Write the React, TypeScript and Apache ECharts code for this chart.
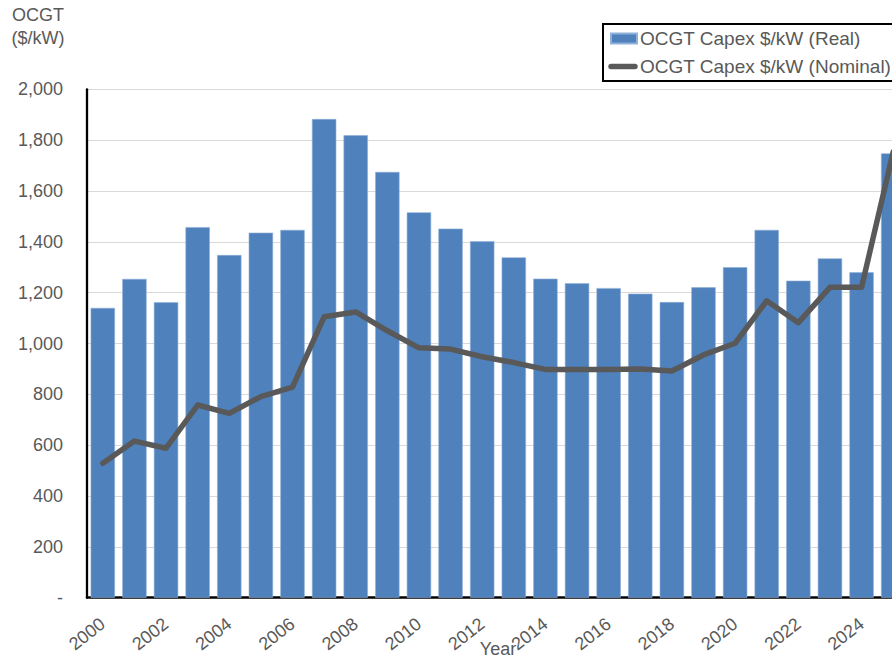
import React, { useEffect, useRef } from "react";
import * as echarts from "echarts";

const years = [
  "2000", "2001", "2002", "2003", "2004", "2005", "2006", "2007", "2008", "2009",
  "2010", "2011", "2012", "2013", "2014", "2015", "2016", "2017", "2018", "2019",
  "2020", "2021", "2022", "2023", "2024", "2025",
];
const realCapex = [
  1140, 1254, 1162, 1458, 1348, 1436, 1447, 1883, 1819, 1675,
  1516, 1452, 1402, 1339, 1255, 1237, 1218, 1196, 1163, 1221,
  1300, 1447, 1247, 1335, 1280, 1748,
];
const nominalCapex = [
  529, 616, 588, 758, 725, 791, 828, 1105, 1124, 1050,
  983, 978, 948, 925, 898, 898, 898, 900, 892, 955,
  1001, 1168, 1082, 1221, 1221, 1754,
];
const seriesNames = ["OCGT Capex $/kW (Real)", "OCGT Capex $/kW (Nominal)"];
const yTitleLines = ["OCGT", "($/kW)"];
const xAxisTitle = "Year";

const FONT = "'Liberation Sans', Arial, sans-serif";
const TEXT = "#595959";
const LINE_ICON = "path://M0,0 L0,0 M0,10 L0,10 M3,2.3 L27,2.3 A2.7,2.7 0 0 1 27,7.7 L3,7.7 A2.7,2.7 0 0 1 3,2.3 Z M30,0 L30,0 M30,10 L30,10";

export default function App() {
  const ref = useRef<HTMLDivElement>(null);
  useEffect(() => {
    if (!ref.current) return;
    const chart = echarts.init(ref.current, undefined, { renderer: "svg" });
    chart.setOption({
      animation: false,
      backgroundColor: "#ffffff",
      textStyle: { fontFamily: FONT, color: TEXT },
      graphic: [
        {
          type: "text",
          x: 38,
          y: 15,
          style: {
            text: yTitleLines[0],
            fill: TEXT,
            font: `18px ${FONT}`,
            textAlign: "center",
            textVerticalAlign: "middle",
          },
        },
        {
          type: "text",
          x: 38,
          y: 38,
          style: {
            text: yTitleLines[1],
            fill: TEXT,
            font: `18px ${FONT}`,
            textAlign: "center",
            textVerticalAlign: "middle",
          },
        },
      ],
      legend: {
        orient: "vertical",
        left: 603,
        top: 24,
        padding: [5, 30, 5, 4],
        itemGap: 9,
        itemWidth: 30,
        itemHeight: 10,
        borderColor: "#000",
        borderWidth: 2,
        backgroundColor: "#fff",
        textStyle: { fontFamily: FONT, fontSize: 19, color: TEXT, padding: [0, 0, 0, -3] },
        data: [
          { name: seriesNames[0], icon: "path://M3,0 L29,0 L29,10 L3,10 Z M0,0 L0,0 M30,10 L30,10" },
          { name: seriesNames[1], icon: LINE_ICON, itemStyle: { color: "#595959" } },
        ],
      },
      grid: { left: 87, top: 89.3, width: 822, height: 508.4, containLabel: false, outerBoundsMode: "none" },
      xAxis: {
        type: "category",
        data: years,
        name: xAxisTitle,
        nameLocation: "middle",
        nameGap: 42,
        nameMoveOverlap: false,
        nameTextStyle: { fontFamily: FONT, fontSize: 18, color: TEXT },
        axisLine: { show: true, lineStyle: { color: "#000", width: 2.5 } },
        axisTick: { show: false },
        axisLabel: {
          interval: 1,
          rotate: 38,
          margin: 24,
          fontFamily: FONT,
          fontSize: 18,
          color: TEXT,
        },
      },
      yAxis: {
        type: "value",
        min: 0,
        max: 2000,
        interval: 200,
        axisLine: { show: true, lineStyle: { color: "#000", width: 2.3 } },
        axisTick: { show: false },
        splitLine: { show: true, lineStyle: { color: "#d9d9d9", width: 1 } },
        axisLabel: {
          margin: 24,
          fontFamily: FONT,
          fontSize: 18,
          color: TEXT,
          formatter: (v: number) => (v === 0 ? "-" : v.toLocaleString("en-US")),
        },
      },
      series: [
        {
          name: seriesNames[0],
          type: "bar",
          data: realCapex,
          barCategoryGap: "23%",
          itemStyle: { color: "#4f81bd", borderColor: "#8fb0d9", borderWidth: 0.6 },
        },
        {
          name: seriesNames[1],
          type: "line",
          data: nominalCapex,
          symbol: "none",
          lineStyle: { color: "#595959", width: 5.5, cap: "round", join: "round" },
          itemStyle: { color: "#595959" },
          z: 5,
        },
      ],
    });
    return () => chart.dispose();
  }, []);
  return (
    <div
      ref={ref}
      style={{ position: "fixed", left: 0, top: 0, width: 892, height: 659, background: "#fff" }}
    />
  );
}
